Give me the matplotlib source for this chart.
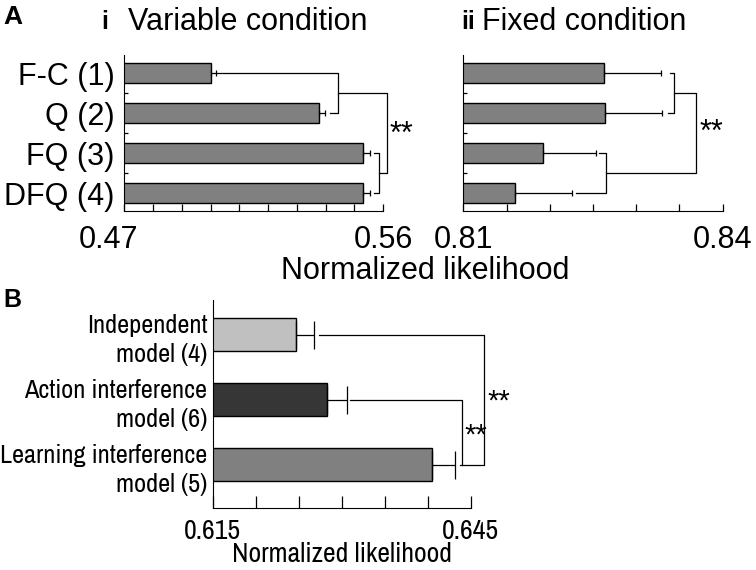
import numpy as np
import matplotlib
matplotlib.use("Agg")
import matplotlib.pyplot as plt
from matplotlib import font_manager, transforms

# panel A data
conds = ['F-C (1)', 'Q (2)', 'FQ (3)', 'DFQ (4)']
var_vals = [0.5001, 0.5378, 0.5532, 0.5532]
var_err = [0.0018, 0.0020, 0.0023, 0.0023]
fix_vals = [0.8263, 0.8264, 0.8192, 0.8160]
fix_err = [0.0066, 0.0066, 0.0061, 0.0066]

# panel B data
models = ['Independent\nmodel (4)', 'Action interference\nmodel (6)',
          'Learning interference\nmodel (5)']
model_vals = [0.6247, 0.6283, 0.6405]
model_err = [0.0021, 0.0023, 0.0027]
model_colors = ['#c0c0c0', '#363636', '#808080']

plt.rcParams['font.family'] = ['Liberation Sans', 'DejaVu Sans']

# panel B uses a narrow face in the original
have = set(f.name for f in font_manager.fontManager.ttflist)
narrow, nsize = 'Liberation Sans', 15.5
for cand in ['Liberation Sans Narrow', 'Archivo Narrow', 'PT Sans Narrow', 'Roboto Condensed']:
    if cand in have:
        narrow, nsize = cand, 19
        break

W, H = 756, 570
fig = plt.figure(figsize=(W / 100, H / 100), dpi=100)


def box(l, t, r, b):
    return [l / W, 1 - b / H, (r - l) / W, (b - t) / H]


def fx(px):
    return px / W


def fy(py):
    return 1 - py / H


def bars(ax, vals, err, color, cap):
    y = np.arange(len(vals))
    ax.barh(y, vals, height=0.5, color=color, edgecolor='black', linewidth=1)
    ax.errorbar(vals, y, xerr=[np.zeros(len(vals)), err], fmt='none',
                ecolor='black', elinewidth=0.9, capsize=cap, capthick=0.9)


def line(ax, xs, ys):
    ax.plot(xs, ys, color='black', lw=0.9, clip_on=False)


def style(ax, lo, hi, step, ylim, ticklen, fs, fam, pad):
    ax.set_xlim(lo, hi)
    ax.set_ylim(*ylim)
    for s in ['top', 'right']:
        ax.spines[s].set_visible(False)
    ticks = np.arange(lo, hi + step / 2, step)
    labels = [''] * len(ticks)
    labels[0] = ('%.3f' % lo).rstrip('0')
    labels[-1] = ('%.3f' % hi).rstrip('0')
    ax.set_xticks(ticks, labels)
    ax.tick_params(axis='x', direction='in', length=ticklen, width=0.9, pad=pad)
    for t in ax.get_xticklabels():
        t.set_fontsize(fs)
        t.set_family(fam)


# ---- A i: variable condition
ax1 = fig.add_axes(box(124.3, 55, 383, 211))
bars(ax1, var_vals, var_err, '#808080', 2.5)
style(ax1, 0.47, 0.56, 0.01, (3.45, -0.45), 5, 22, 'Liberation Sans', 10)
ax1.set_yticks(range(4), conds, fontsize=22)
ax1.set_yticks([0.5, 1.5, 2.5], minor=True)
ax1.tick_params(axis='y', which='major', length=0, pad=7)
ax1.tick_params(axis='y', which='minor', direction='in', length=3, width=0.9)
lab = ax1.get_xticklabels()[0]
lab.set_transform(lab.get_transform() + transforms.ScaledTranslation(-0.16, 0, fig.dpi_scale_trans))

ve = [v + e for v, e in zip(var_vals, var_err)]
line(ax1, [ve[0] + 0.0002, 0.5442, 0.5442, ve[1] + 0.0017], [0, 0, 1, 1])
line(ax1, [ve[2] + 0.0014, 0.5587, 0.5587, ve[3] + 0.0014], [2, 2, 3, 3])
line(ax1, [0.5442, 0.5614, 0.5614, 0.5587], [0.5, 0.5, 2.5, 2.5])
ax1.text(0.5622, 1.55, '**', fontsize=22, ha='left', va='center')

# ---- A ii: fixed condition
ax2 = fig.add_axes(box(463.3, 55, 722.7, 211))
bars(ax2, fix_vals, fix_err, '#808080', 2.5)
style(ax2, 0.81, 0.84, 0.005, (3.45, -0.45), 5, 22, 'Liberation Sans', 10)
ax2.set_yticks([])
ax2.set_yticks([0.5, 1.5, 2.5], minor=True)
ax2.tick_params(axis='y', which='minor', direction='in', length=3, width=0.9)
ax2.set_yticklabels([], minor=True)

fe = [v + e for v, e in zip(fix_vals, fix_err)]
line(ax2, [fe[0] + 0.0010, 0.8344, 0.8344, fe[1] + 0.0007], [0, 0, 1, 1])
line(ax2, [fe[2] + 0.0004, 0.8265, 0.8265, fe[3] + 0.0004], [2, 2, 3, 3])
line(ax2, [0.8344, 0.8369, 0.8369, 0.8265], [0.5, 0.5, 2.5, 2.5])
ax2.text(0.8373, 1.5, '**', fontsize=22, ha='left', va='center')

# ---- B: models
ax3 = fig.add_axes(box(212.7, 300, 470.7, 507.7))
bars(ax3, model_vals, model_err, model_colors, 10)
style(ax3, 0.615, 0.645, 0.005, (2.66, -0.53), 9, nsize + 1, narrow, 8)
ax3.set_yticks(range(3), models)
ax3.tick_params(axis='y', length=0, pad=4)
for t in ax3.get_yticklabels():
    t.set_fontsize(nsize)
    t.set_family(narrow)
    t.set_linespacing(1.35)
    t.set_horizontalalignment('right')

me = [v + e for v, e in zip(model_vals, model_err)]
line(ax3, [me[0] + 0.0006, 0.6466, 0.6466, 0.6438], [0, 0, 2, 2])
line(ax3, [me[1] + 0.0004, 0.6440, 0.6440], [1, 1, 2])
ax3.text(0.6443, 1.55, '**', fontsize=21, ha='left', va='center')
ax3.text(0.6469, 1.03, '**', fontsize=21, ha='left', va='center')

# ---- labels
fig.text(fx(3), fy(17), 'A', fontsize=19, fontweight='bold', va='center')
fig.text(fx(3), fy(300), 'B', fontsize=18, fontweight='bold', va='center')
fig.text(fx(101), fy(22), 'i', fontsize=18, fontweight='bold', va='center')
fig.text(fx(128), fy(22), 'Variable condition', fontsize=22, va='center')
fig.text(fx(461), fy(22), 'ii', fontsize=18, fontweight='bold', va='center')
fig.text(fx(482), fy(22), 'Fixed condition', fontsize=22, va='center')
fig.text(fx(425), fy(271), 'Normalized likelihood', fontsize=22, ha='center', va='center')
fig.text(fx(342), fy(555), 'Normalized likelihood', fontsize=nsize + 1, family=narrow,
         ha='center', va='center')

fig.savefig('out.png', dpi=100)
